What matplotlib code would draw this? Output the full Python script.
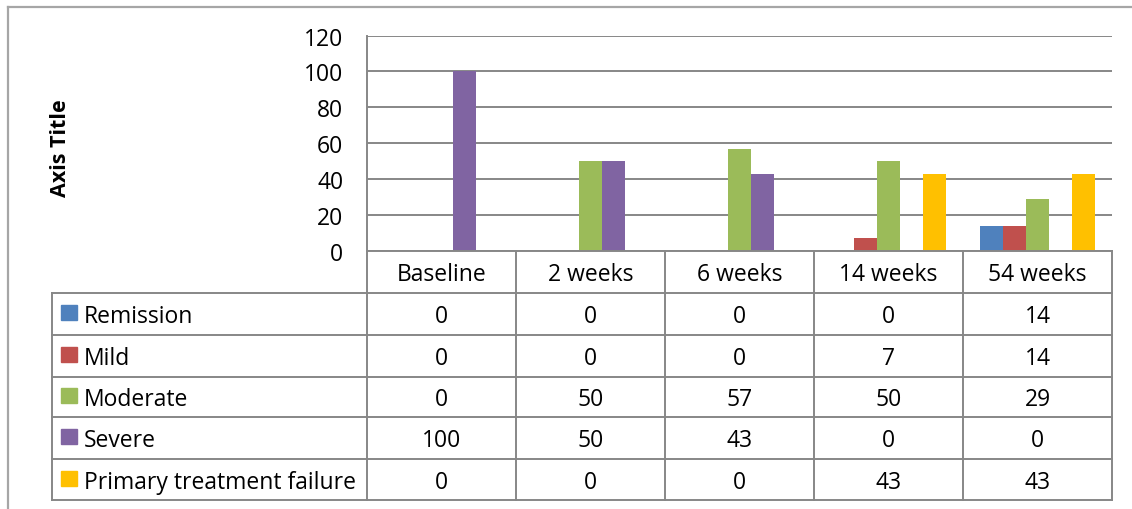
import matplotlib
matplotlib.use("Agg")
import matplotlib.pyplot as plt
import numpy as np

plt.rcParams['font.family'] = ['Open Sans', 'DejaVu Sans']

categories = ["Baseline", "2 weeks", "6 weeks", "14 weeks", "54 weeks"]
series_names = ["Remission", "Mild", "Moderate", "Severe", "Primary treatment failure"]
remission = [0, 0, 0, 0, 14]
mild = [0, 0, 0, 7, 14]
moderate = [0, 50, 57, 50, 29]
severe = [100, 50, 43, 0, 0]
failure = [0, 0, 0, 43, 43]
colors = ["#4F81BD", "#C0504D", "#9BBB59", "#8064A2", "#FFC000"]
y_ticks = [0, 20, 40, 60, 80, 100, 120]
y_title = "Axis Title"

series = [remission, mild, moderate, severe, failure]

W, H = 1132, 510
DPI = 100
fig = plt.figure(figsize=(W / DPI, H / DPI), dpi=DPI)

# layout in pixels (top-left origin)
plot_l, plot_r = 367, 1112
plot_t, plot_b = 36.5, 252
tab_l = 52
row_edges = [252, 294, 336, 378, 418, 460, 501]
grid_c = "#878787"
FS = 16.5


def fx(px):
    return px / W


def fy(py):
    return 1 - py / H


ax = fig.add_axes([fx(plot_l), fy(plot_b), fx(plot_r) - fx(plot_l), fy(plot_t) - fy(plot_b)])
n_cat = len(categories)
n_ser = len(series)
bar_w = 1.0 / (n_ser + 1.5)
x = np.arange(n_cat)
for i, (vals, c) in enumerate(zip(series, colors)):
    offs = (i - (n_ser - 1) / 2) * bar_w
    ax.bar(x + 0.5 + offs, vals, width=bar_w, color=c, zorder=3, linewidth=0)
ax.set_xlim(0, n_cat)
ax.set_ylim(0, 120)
ax.set_yticks(y_ticks)
ax.set_yticklabels([str(t) for t in y_ticks], fontsize=FS)
ax.set_xticks([])
ax.tick_params(axis='y', length=0, pad=17)
ax.grid(axis='y', color=grid_c, linewidth=1.4, zorder=0)
for s in ["top", "right", "bottom"]:
    ax.spines[s].set_visible(False)
ax.spines["left"].set_color(grid_c)
ax.spines["left"].set_linewidth(1.4)

# overlay for the data table and frame, in pixel coordinates
ov = fig.add_axes([0, 0, 1, 1], zorder=5)
ov.set_xlim(0, W)
ov.set_ylim(H, 0)
ov.axis("off")
ov.patch.set_alpha(0)

# outer chart frame
ov.plot([8, 8], [8, H], color="#A6A6A6", lw=1.6)
ov.plot([8, W], [8, 8], color="#A6A6A6", lw=1.6)

col_edges = np.linspace(plot_l, plot_r, n_cat + 1)
# horizontal table lines
ov.plot([plot_l, plot_r], [row_edges[0]] * 2, color=grid_c, lw=1.4)
for yy in row_edges[1:]:
    ov.plot([tab_l, plot_r], [yy, yy], color=grid_c, lw=1.4)
# vertical table lines
for xx in col_edges:
    ov.plot([xx, xx], [row_edges[0], row_edges[-1]], color=grid_c, lw=1.4)
ov.plot([tab_l, tab_l], [row_edges[1], row_edges[-1]], color=grid_c, lw=1.4)

TXT_DY = 2.5

# header row
for j, cat in enumerate(categories):
    ov.text((col_edges[j] + col_edges[j + 1]) / 2, (row_edges[0] + row_edges[1]) / 2 + TXT_DY,
            cat, ha="center", va="center", fontsize=FS)

# series rows
for i, (name, vals, c) in enumerate(zip(series_names, series, colors)):
    yc = (row_edges[i + 1] + row_edges[i + 2]) / 2
    ov.add_patch(plt.Rectangle((61, yc - 9), 16, 15, color=c))
    ov.text(84, yc + TXT_DY, name, ha="left", va="center", fontsize=FS)
    for j, v in enumerate(vals):
        ov.text((col_edges[j] + col_edges[j + 1]) / 2, yc + TXT_DY, str(v),
                ha="center", va="center", fontsize=FS)

fig.text(fx(60), fy(148), y_title, rotation=90, ha="center", va="center",
         fontsize=15.5, fontweight="bold")

fig.savefig("out.png", dpi=DPI, facecolor="white")
